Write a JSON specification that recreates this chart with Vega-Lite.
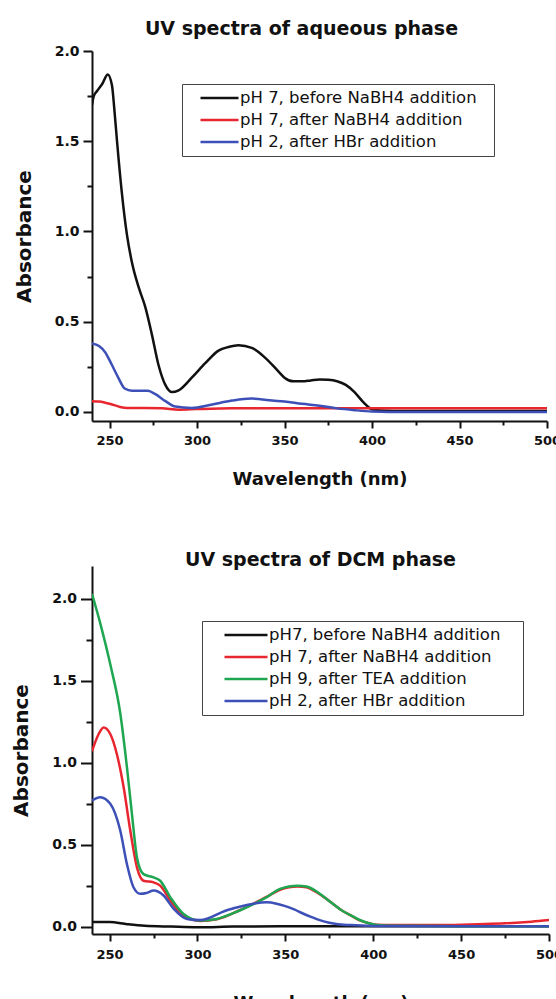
{
  "$schema": "https://vega.github.io/schema/vega-lite/v6.json",
  "padding": {"left": 11, "top": 20, "right": 0, "bottom": 0},
  "spacing": 63,
  "resolve": {"scale": {"color": "independent"}, "legend": {"color": "independent"}},
  "config": {
    "font": "DejaVu Sans",
    "view": {"stroke": null},
    "axis": {"grid": false, "labelFont": "DejaVu Sans", "labelFontWeight": "bold", "labelFontSize": 13, "labelColor": "#111", "titleFont": "DejaVu Sans", "titleFontWeight": "bold", "titleColor": "#111", "domainColor": "#111", "tickColor": "#111", "domainWidth": 2, "tickWidth": 2},
    "axisLeft": {"labelFontSize": 14},
    "title": {"font": "DejaVu Sans", "fontWeight": "bold", "fontSize": 19, "color": "#111"},
    "legend": {"labelFont": "DejaVu Sans", "labelFontSize": 16.5, "labelColor": "#111", "labelLimit": 400, "symbolType": "stroke", "symbolStrokeWidth": 2.5, "strokeColor": "#444", "fillColor": "white", "padding": 4, "labelOffset": 0, "clipHeight": 20, "rowPadding": 2, "titleOrient": "right", "titleFontSize": 1, "titlePadding": 13}
  },
  "datasets": {
    "aq": [
      {"series": "pH 7, before NaBH4 addition", "wl": 240, "abs": 1.70},
      {"series": "pH 7, before NaBH4 addition", "wl": 241, "abs": 1.75},
      {"series": "pH 7, before NaBH4 addition", "wl": 243, "abs": 1.78},
      {"series": "pH 7, before NaBH4 addition", "wl": 246, "abs": 1.82},
      {"series": "pH 7, before NaBH4 addition", "wl": 249, "abs": 1.87},
      {"series": "pH 7, before NaBH4 addition", "wl": 251.4, "abs": 1.81},
      {"series": "pH 7, before NaBH4 addition", "wl": 253, "abs": 1.65},
      {"series": "pH 7, before NaBH4 addition", "wl": 254.3, "abs": 1.50},
      {"series": "pH 7, before NaBH4 addition", "wl": 257, "abs": 1.22},
      {"series": "pH 7, before NaBH4 addition", "wl": 260, "abs": 0.98},
      {"series": "pH 7, before NaBH4 addition", "wl": 262.8, "abs": 0.83},
      {"series": "pH 7, before NaBH4 addition", "wl": 266.7, "abs": 0.69},
      {"series": "pH 7, before NaBH4 addition", "wl": 270.5, "abs": 0.58},
      {"series": "pH 7, before NaBH4 addition", "wl": 274.2, "abs": 0.43},
      {"series": "pH 7, before NaBH4 addition", "wl": 278, "abs": 0.26},
      {"series": "pH 7, before NaBH4 addition", "wl": 281.9, "abs": 0.15},
      {"series": "pH 7, before NaBH4 addition", "wl": 285.7, "abs": 0.11},
      {"series": "pH 7, before NaBH4 addition", "wl": 289.5, "abs": 0.12},
      {"series": "pH 7, before NaBH4 addition", "wl": 297, "abs": 0.19},
      {"series": "pH 7, before NaBH4 addition", "wl": 304.7, "abs": 0.27},
      {"series": "pH 7, before NaBH4 addition", "wl": 312.3, "abs": 0.34},
      {"series": "pH 7, before NaBH4 addition", "wl": 318, "abs": 0.36},
      {"series": "pH 7, before NaBH4 addition", "wl": 323.7, "abs": 0.37},
      {"series": "pH 7, before NaBH4 addition", "wl": 331.3, "abs": 0.355},
      {"series": "pH 7, before NaBH4 addition", "wl": 339, "abs": 0.30},
      {"series": "pH 7, before NaBH4 addition", "wl": 346.5, "abs": 0.225},
      {"series": "pH 7, before NaBH4 addition", "wl": 350, "abs": 0.19},
      {"series": "pH 7, before NaBH4 addition", "wl": 355, "abs": 0.17},
      {"series": "pH 7, before NaBH4 addition", "wl": 360, "abs": 0.17},
      {"series": "pH 7, before NaBH4 addition", "wl": 365, "abs": 0.175},
      {"series": "pH 7, before NaBH4 addition", "wl": 370, "abs": 0.18},
      {"series": "pH 7, before NaBH4 addition", "wl": 375, "abs": 0.178},
      {"series": "pH 7, before NaBH4 addition", "wl": 380, "abs": 0.17},
      {"series": "pH 7, before NaBH4 addition", "wl": 385, "abs": 0.15},
      {"series": "pH 7, before NaBH4 addition", "wl": 390, "abs": 0.11},
      {"series": "pH 7, before NaBH4 addition", "wl": 395, "abs": 0.055},
      {"series": "pH 7, before NaBH4 addition", "wl": 400, "abs": 0.015},
      {"series": "pH 7, before NaBH4 addition", "wl": 405, "abs": 0.008},
      {"series": "pH 7, before NaBH4 addition", "wl": 420, "abs": 0.005},
      {"series": "pH 7, before NaBH4 addition", "wl": 450, "abs": 0.005},
      {"series": "pH 7, before NaBH4 addition", "wl": 480, "abs": 0.005},
      {"series": "pH 7, before NaBH4 addition", "wl": 500, "abs": 0.005},
      {"series": "pH 7, after NaBH4 addition", "wl": 240, "abs": 0.06},
      {"series": "pH 7, after NaBH4 addition", "wl": 244, "abs": 0.058},
      {"series": "pH 7, after NaBH4 addition", "wl": 248, "abs": 0.05},
      {"series": "pH 7, after NaBH4 addition", "wl": 252, "abs": 0.04},
      {"series": "pH 7, after NaBH4 addition", "wl": 256, "abs": 0.028},
      {"series": "pH 7, after NaBH4 addition", "wl": 260, "abs": 0.022},
      {"series": "pH 7, after NaBH4 addition", "wl": 270, "abs": 0.022},
      {"series": "pH 7, after NaBH4 addition", "wl": 280, "abs": 0.02},
      {"series": "pH 7, after NaBH4 addition", "wl": 290, "abs": 0.013},
      {"series": "pH 7, after NaBH4 addition", "wl": 300, "abs": 0.016},
      {"series": "pH 7, after NaBH4 addition", "wl": 320, "abs": 0.02},
      {"series": "pH 7, after NaBH4 addition", "wl": 350, "abs": 0.02},
      {"series": "pH 7, after NaBH4 addition", "wl": 400, "abs": 0.02},
      {"series": "pH 7, after NaBH4 addition", "wl": 450, "abs": 0.02},
      {"series": "pH 7, after NaBH4 addition", "wl": 500, "abs": 0.02},
      {"series": "pH 2, after HBr addition", "wl": 240, "abs": 0.38},
      {"series": "pH 2, after HBr addition", "wl": 244, "abs": 0.365},
      {"series": "pH 2, after HBr addition", "wl": 247.6, "abs": 0.33},
      {"series": "pH 2, after HBr addition", "wl": 251.4, "abs": 0.26},
      {"series": "pH 2, after HBr addition", "wl": 255, "abs": 0.19},
      {"series": "pH 2, after HBr addition", "wl": 258.7, "abs": 0.13},
      {"series": "pH 2, after HBr addition", "wl": 262.8, "abs": 0.118},
      {"series": "pH 2, after HBr addition", "wl": 267, "abs": 0.118},
      {"series": "pH 2, after HBr addition", "wl": 272, "abs": 0.117},
      {"series": "pH 2, after HBr addition", "wl": 276, "abs": 0.10},
      {"series": "pH 2, after HBr addition", "wl": 282, "abs": 0.06},
      {"series": "pH 2, after HBr addition", "wl": 287.6, "abs": 0.03},
      {"series": "pH 2, after HBr addition", "wl": 297, "abs": 0.022},
      {"series": "pH 2, after HBr addition", "wl": 308, "abs": 0.04},
      {"series": "pH 2, after HBr addition", "wl": 320, "abs": 0.063},
      {"series": "pH 2, after HBr addition", "wl": 331, "abs": 0.074},
      {"series": "pH 2, after HBr addition", "wl": 343, "abs": 0.063},
      {"series": "pH 2, after HBr addition", "wl": 350, "abs": 0.058},
      {"series": "pH 2, after HBr addition", "wl": 360, "abs": 0.045},
      {"series": "pH 2, after HBr addition", "wl": 370, "abs": 0.035},
      {"series": "pH 2, after HBr addition", "wl": 380, "abs": 0.02},
      {"series": "pH 2, after HBr addition", "wl": 390, "abs": 0.01},
      {"series": "pH 2, after HBr addition", "wl": 400, "abs": 0.003},
      {"series": "pH 2, after HBr addition", "wl": 420, "abs": 0.0},
      {"series": "pH 2, after HBr addition", "wl": 450, "abs": 0.0},
      {"series": "pH 2, after HBr addition", "wl": 500, "abs": 0.0}
    ],
    "dcm": [
      {"series": "pH7, before NaBH4 addition", "wl": 240, "abs": 0.028},
      {"series": "pH7, before NaBH4 addition", "wl": 250, "abs": 0.028},
      {"series": "pH7, before NaBH4 addition", "wl": 260, "abs": 0.015},
      {"series": "pH7, before NaBH4 addition", "wl": 270, "abs": 0.005},
      {"series": "pH7, before NaBH4 addition", "wl": 285, "abs": 0.0},
      {"series": "pH7, before NaBH4 addition", "wl": 300, "abs": -0.004},
      {"series": "pH7, before NaBH4 addition", "wl": 320, "abs": 0.0},
      {"series": "pH7, before NaBH4 addition", "wl": 350, "abs": 0.002},
      {"series": "pH7, before NaBH4 addition", "wl": 400, "abs": 0.003},
      {"series": "pH7, before NaBH4 addition", "wl": 450, "abs": 0.003},
      {"series": "pH7, before NaBH4 addition", "wl": 500, "abs": 0.003},
      {"series": "pH 7, after NaBH4 addition", "wl": 240, "abs": 1.07},
      {"series": "pH 7, after NaBH4 addition", "wl": 243.8, "abs": 1.175},
      {"series": "pH 7, after NaBH4 addition", "wl": 246.6, "abs": 1.215},
      {"series": "pH 7, after NaBH4 addition", "wl": 250.4, "abs": 1.175},
      {"series": "pH 7, after NaBH4 addition", "wl": 254.2, "abs": 1.05},
      {"series": "pH 7, after NaBH4 addition", "wl": 258, "abs": 0.85},
      {"series": "pH 7, after NaBH4 addition", "wl": 261.8, "abs": 0.585},
      {"series": "pH 7, after NaBH4 addition", "wl": 265.6, "abs": 0.36},
      {"series": "pH 7, after NaBH4 addition", "wl": 269.3, "abs": 0.28},
      {"series": "pH 7, after NaBH4 addition", "wl": 275, "abs": 0.27},
      {"series": "pH 7, after NaBH4 addition", "wl": 278.8, "abs": 0.25},
      {"series": "pH 7, after NaBH4 addition", "wl": 284.5, "abs": 0.16},
      {"series": "pH 7, after NaBH4 addition", "wl": 292, "abs": 0.067},
      {"series": "pH 7, after NaBH4 addition", "wl": 301.5, "abs": 0.035},
      {"series": "pH 7, after NaBH4 addition", "wl": 311, "abs": 0.045},
      {"series": "pH 7, after NaBH4 addition", "wl": 324, "abs": 0.1},
      {"series": "pH 7, after NaBH4 addition", "wl": 339, "abs": 0.18},
      {"series": "pH 7, after NaBH4 addition", "wl": 347, "abs": 0.225},
      {"series": "pH 7, after NaBH4 addition", "wl": 352, "abs": 0.24},
      {"series": "pH 7, after NaBH4 addition", "wl": 357, "abs": 0.245},
      {"series": "pH 7, after NaBH4 addition", "wl": 362, "abs": 0.24},
      {"series": "pH 7, after NaBH4 addition", "wl": 367, "abs": 0.215},
      {"series": "pH 7, after NaBH4 addition", "wl": 372, "abs": 0.18},
      {"series": "pH 7, after NaBH4 addition", "wl": 377, "abs": 0.14},
      {"series": "pH 7, after NaBH4 addition", "wl": 382, "abs": 0.10},
      {"series": "pH 7, after NaBH4 addition", "wl": 387, "abs": 0.07},
      {"series": "pH 7, after NaBH4 addition", "wl": 392, "abs": 0.04},
      {"series": "pH 7, after NaBH4 addition", "wl": 397, "abs": 0.022},
      {"series": "pH 7, after NaBH4 addition", "wl": 402, "abs": 0.012},
      {"series": "pH 7, after NaBH4 addition", "wl": 410, "abs": 0.01},
      {"series": "pH 7, after NaBH4 addition", "wl": 420, "abs": 0.01},
      {"series": "pH 7, after NaBH4 addition", "wl": 440, "abs": 0.01},
      {"series": "pH 7, after NaBH4 addition", "wl": 460, "abs": 0.015},
      {"series": "pH 7, after NaBH4 addition", "wl": 475, "abs": 0.02},
      {"series": "pH 7, after NaBH4 addition", "wl": 490, "abs": 0.03},
      {"series": "pH 7, after NaBH4 addition", "wl": 500, "abs": 0.04},
      {"series": "pH 9, after TEA addition", "wl": 240, "abs": 2.03},
      {"series": "pH 9, after TEA addition", "wl": 244.7, "abs": 1.85},
      {"series": "pH 9, after TEA addition", "wl": 250.4, "abs": 1.60},
      {"series": "pH 9, after TEA addition", "wl": 256.1, "abs": 1.30},
      {"series": "pH 9, after TEA addition", "wl": 259.9, "abs": 0.97},
      {"series": "pH 9, after TEA addition", "wl": 262.7, "abs": 0.69},
      {"series": "pH 9, after TEA addition", "wl": 265.6, "abs": 0.42},
      {"series": "pH 9, after TEA addition", "wl": 269.3, "abs": 0.32},
      {"series": "pH 9, after TEA addition", "wl": 275, "abs": 0.30},
      {"series": "pH 9, after TEA addition", "wl": 278.8, "abs": 0.28},
      {"series": "pH 9, after TEA addition", "wl": 284.5, "abs": 0.18},
      {"series": "pH 9, after TEA addition", "wl": 292.1, "abs": 0.077},
      {"series": "pH 9, after TEA addition", "wl": 301.5, "abs": 0.037},
      {"series": "pH 9, after TEA addition", "wl": 311, "abs": 0.047},
      {"series": "pH 9, after TEA addition", "wl": 324.3, "abs": 0.1},
      {"series": "pH 9, after TEA addition", "wl": 339.4, "abs": 0.18},
      {"series": "pH 9, after TEA addition", "wl": 347, "abs": 0.23},
      {"series": "pH 9, after TEA addition", "wl": 352, "abs": 0.245},
      {"series": "pH 9, after TEA addition", "wl": 357, "abs": 0.25},
      {"series": "pH 9, after TEA addition", "wl": 362, "abs": 0.245},
      {"series": "pH 9, after TEA addition", "wl": 367, "abs": 0.22},
      {"series": "pH 9, after TEA addition", "wl": 372, "abs": 0.18},
      {"series": "pH 9, after TEA addition", "wl": 377, "abs": 0.14},
      {"series": "pH 9, after TEA addition", "wl": 382, "abs": 0.10},
      {"series": "pH 9, after TEA addition", "wl": 387, "abs": 0.07},
      {"series": "pH 9, after TEA addition", "wl": 392, "abs": 0.042},
      {"series": "pH 9, after TEA addition", "wl": 397, "abs": 0.022},
      {"series": "pH 9, after TEA addition", "wl": 402, "abs": 0.01},
      {"series": "pH 9, after TEA addition", "wl": 410, "abs": 0.005},
      {"series": "pH 9, after TEA addition", "wl": 450, "abs": 0.003},
      {"series": "pH 9, after TEA addition", "wl": 500, "abs": 0.003},
      {"series": "pH 2, after HBr addition", "wl": 240, "abs": 0.77},
      {"series": "pH 2, after HBr addition", "wl": 244.7, "abs": 0.79},
      {"series": "pH 2, after HBr addition", "wl": 250.4, "abs": 0.75},
      {"series": "pH 2, after HBr addition", "wl": 256.1, "abs": 0.585},
      {"series": "pH 2, after HBr addition", "wl": 259.9, "abs": 0.38},
      {"series": "pH 2, after HBr addition", "wl": 263.6, "abs": 0.24},
      {"series": "pH 2, after HBr addition", "wl": 267.4, "abs": 0.20},
      {"series": "pH 2, after HBr addition", "wl": 271, "abs": 0.205},
      {"series": "pH 2, after HBr addition", "wl": 275, "abs": 0.22},
      {"series": "pH 2, after HBr addition", "wl": 280.7, "abs": 0.19},
      {"series": "pH 2, after HBr addition", "wl": 286.4, "abs": 0.11},
      {"series": "pH 2, after HBr addition", "wl": 294, "abs": 0.047},
      {"series": "pH 2, after HBr addition", "wl": 301.5, "abs": 0.04},
      {"series": "pH 2, after HBr addition", "wl": 316.7, "abs": 0.1},
      {"series": "pH 2, after HBr addition", "wl": 331.9, "abs": 0.14},
      {"series": "pH 2, after HBr addition", "wl": 339.4, "abs": 0.148},
      {"series": "pH 2, after HBr addition", "wl": 345, "abs": 0.14},
      {"series": "pH 2, after HBr addition", "wl": 350, "abs": 0.125},
      {"series": "pH 2, after HBr addition", "wl": 355, "abs": 0.105},
      {"series": "pH 2, after HBr addition", "wl": 360, "abs": 0.08},
      {"series": "pH 2, after HBr addition", "wl": 365, "abs": 0.058},
      {"series": "pH 2, after HBr addition", "wl": 370, "abs": 0.038},
      {"series": "pH 2, after HBr addition", "wl": 375, "abs": 0.024},
      {"series": "pH 2, after HBr addition", "wl": 380, "abs": 0.015},
      {"series": "pH 2, after HBr addition", "wl": 390, "abs": 0.008},
      {"series": "pH 2, after HBr addition", "wl": 400, "abs": 0.004},
      {"series": "pH 2, after HBr addition", "wl": 450, "abs": 0.002},
      {"series": "pH 2, after HBr addition", "wl": 500, "abs": 0.002}
    ]
  },
  "vconcat": [
    {
      "width": 455,
      "height": 370,
      "data": {"name": "aq"},
      "title": {"text": "UV spectra of aqueous phase", "offset": 5, "dx": -18},
      "resolve": {"axis": {"x": "independent", "y": "independent"}},
      "layer": [
        {
          "mark": {"type": "line", "strokeWidth": 2.5, "interpolate": "monotone", "clip": true},
          "encoding": {
            "x": {"field": "wl", "type": "quantitative", "scale": {"domain": [240, 500], "nice": false, "zero": false},
              "axis": {"values": [250, 300, 350, 400, 450, 500], "title": "Wavelength (nm)", "titleFontSize": 18, "titlePadding": 23, "tickSize": 7, "labelPadding": 6, "labelFlush": false}},
            "y": {"field": "abs", "type": "quantitative", "scale": {"domain": [-0.05, 2.0], "nice": false, "zero": false},
              "axis": {"values": [0, 0.5, 1.0, 1.5, 2.0], "format": ".1f", "title": "Absorbance", "titleFontSize": 20, "titlePadding": 20, "tickSize": 9, "labelPadding": 4}},
            "color": {"field": "series", "type": "nominal",
              "scale": {"domain": ["pH 7, before NaBH4 addition", "pH 7, after NaBH4 addition", "pH 2, after HBr addition"], "range": ["#111111", "#e8262f", "#3c50b8"]},
              "legend": {"orient": "none", "legendX": 90, "legendY": 33, "title": " ", "symbolSize": 1444, "symbolOffset": 13}}
          }
        },
        {
          "mark": {"type": "line", "opacity": 0},
          "encoding": {
            "x": {"field": "wl", "type": "quantitative", "scale": {"domain": [240, 500], "nice": false, "zero": false},
              "axis": {"orient": "bottom", "values": [275, 325, 375, 425, 475], "labels": false, "domain": false, "title": null, "tickSize": 4}},
            "y": {"field": "abs", "type": "quantitative", "scale": {"domain": [-0.05, 2.0], "nice": false, "zero": false},
              "axis": {"orient": "left", "values": [0.25, 0.75, 1.25, 1.75], "labels": false, "domain": false, "title": null, "tickSize": 5}},
            "detail": {"field": "series"}
          }
        }
      ]
    },
    {
      "width": 457,
      "height": 368,
      "data": {"name": "dcm"},
      "title": {"text": "UV spectra of DCM phase", "offset": -4},
      "resolve": {"axis": {"x": "independent", "y": "independent"}},
      "layer": [
        {
          "mark": {"type": "line", "strokeWidth": 2.5, "interpolate": "monotone", "clip": true},
          "encoding": {
            "x": {"field": "wl", "type": "quantitative", "scale": {"domain": [240, 500], "nice": false, "zero": false},
              "axis": {"values": [250, 300, 350, 400, 450, 500], "title": "Wavelength (nm)", "titleFontSize": 18, "titlePadding": 33, "tickSize": 7, "labelPadding": 7, "labelFlush": false}},
            "y": {"field": "abs", "type": "quantitative", "scale": {"domain": [-0.045, 2.2], "nice": false, "zero": false},
              "axis": {"values": [0, 0.5, 1.0, 1.5, 2.0], "format": ".1f", "title": "Absorbance", "titleFontSize": 20, "titlePadding": 20, "tickSize": 11.5, "labelPadding": 4}},
            "color": {"field": "series", "type": "nominal",
              "scale": {"domain": ["pH7, before NaBH4 addition", "pH 7, after NaBH4 addition", "pH 9, after TEA addition", "pH 2, after HBr addition"], "range": ["#111111", "#e8262f", "#1fa650", "#3c50b8"]},
              "legend": {"orient": "none", "legendX": 110, "legendY": 55, "title": " ", "titlePadding": 19, "symbolSize": 1849, "symbolOffset": 17}}
          }
        },
        {
          "mark": {"type": "line", "opacity": 0},
          "encoding": {
            "x": {"field": "wl", "type": "quantitative", "scale": {"domain": [240, 500], "nice": false, "zero": false},
              "axis": {"orient": "bottom", "values": [275, 325, 375, 425, 475], "labels": false, "domain": false, "title": null, "tickSize": 4}},
            "y": {"field": "abs", "type": "quantitative", "scale": {"domain": [-0.045, 2.2], "nice": false, "zero": false},
              "axis": {"orient": "left", "values": [0.25, 0.75, 1.25, 1.75], "labels": false, "domain": false, "title": null, "tickSize": 6}},
            "detail": {"field": "series"}
          }
        }
      ]
    }
  ]
}
